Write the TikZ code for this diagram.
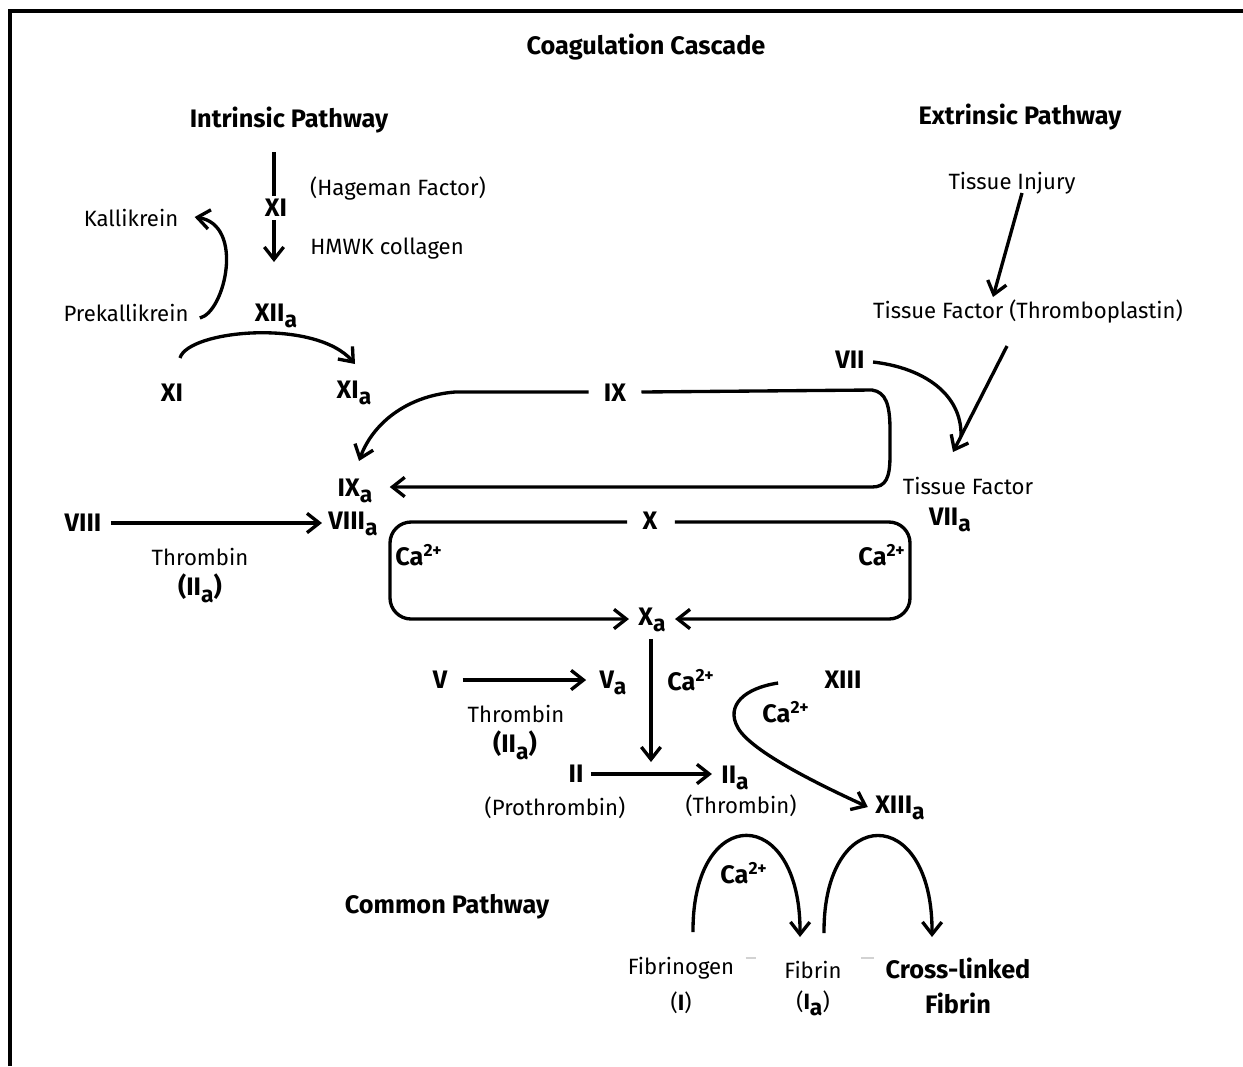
\documentclass[tikz,border=0pt]{standalone}
\usepackage{fontspec}
\setmainfont{Fira Sans}
\usepackage{tikz}
\usetikzlibrary{calc}
\usetikzlibrary{arrows.meta}

\newcommand{\actv}{\raisebox{-0.5ex}{\fontsize{13}{13}\selectfont a}}
\newcommand{\caion}{Ca\textsuperscript{2+}}

\begin{document}
\begin{tikzpicture}[x=0.02cm, y=-0.02cm, line width=1.9pt,
    every node/.style={font=\fontsize{12.6}{14}\selectfont, inner sep=1pt}]
    \tikzstyle{factor}=[font=\fontsize{14.4}{16}\selectfont\bfseries]
    \tikzstyle{flow}=[-{Straight Barb[length=7pt,width=11pt]}]

    \useasboundingbox (0,0) rectangle (1243,1066);

    % Frame
    \draw[line width=2pt] (10,1066) -- (10,11) -- (1243,11);

    % Headings
    \node[factor] (title) at (646,47) {Coagulation Cascade};
    \node[factor] (intr) at (289,120) {Intrinsic Pathway};
    \node[factor] (extr) at (1020,117) {Extrinsic Pathway};
    \node[factor] (common) at (447,907) {Common Pathway};

    % Intrinsic Pathway
    \node[factor] (hageman) at (276,208) {XI};
    \node (hagemanlbl) at (398,188) {(Hageman Factor)};
    \node (hmwk) at (387,249) {HMWK collagen};
    \coordinate (intrtop) at (274,152);
    \coordinate (intrend) at (274,262);
    \draw (intrtop) -- (intrtop |- hageman.north);
    \draw[flow] (intrend |- hageman.south) -- (intrend);

    \node (kall) at (131,218) {Kallikrein};
    \node (prekall) at (126,313) {Prekallikrein};
    \draw[flow] ($(prekall.east)+(8,5)$) .. controls (225,312) and (245,225) ..
      ($(kall.east)+(13,-1)$);

    \node[factor] (xiia) at (276,316) {XII\actv};
    \node[factor] (xi) at (172,393) {XI};
    \node[factor] (xia) at (354,393) {XI\actv};
    \draw[flow] ($(xi)+(8,-35)$) .. controls (188,330) and (315,318) ..
      ($(xia)+(1,-29)$);

    % Factor IX loop
    \node[factor] (ix) at (615,393) {IX};
    \node[factor] (ixa) at (355,491) {IX\actv};
    \draw[flow] ($(ix.east)+(12,-1)$) -- (872,390)
      .. controls (886,392) and (890,405) .. (890,430) -- (890,455)
      .. controls (890,478) and (886,487) .. (872,487)
      -- ($(ixa.east)+(14,-4)$);
    \draw[flow] ($(ix.west)+(-12,-1)$) -- (455,392)
      .. controls (405,396) and (372,425) .. ($(ixa)+(4,-30)$);

    % Factor VIII
    \node[factor] (viii) at (83,523) {VIII};
    \node[factor] (viiia) at (353,524) {VIII\actv};
    \draw[flow] ($(viii.east)+(6,0)$) -- ($(viii.east -| viiia.west)+(-3,0)$);
    \node (thr1) at (200,557) {Thrombin};
    \node[factor] (iia1) at (200,588) {(II\actv)};

    % Factor X complex
    \node[factor] (fx) at (650,521) {X};
    \node[factor] (fxa) at (652,620) {X\actv};
    \node[factor] (ca1) at (419,555) {\caion};
    \node[factor] (ca2) at (882,555) {\caion};
    \draw[flow, rounded corners=12pt] ($(fx.west)+(-12,1)$) -- (390,522) -- (390,619)
      -- ($(fxa.west)+(-6,-1)$);
    \draw[flow, rounded corners=12pt] ($(fx.east)+(14,1)$) -- (910,522) -- (910,619)
      -- ($(fxa.east)+(6,-1)$);

    % Extrinsic Pathway
    \node (injury) at (1012,183) {Tissue Injury};
    \node (tf) at (1028,311) {Tissue Factor (Thromboplastin)};
    \node[factor] (vii) at (850,360) {VII};
    \node (tf2) at (968,486) {Tissue Factor};
    \node[factor] (viia) at (950,520) {VII\actv};
    \coordinate (viijoin) at (961,436);
    \draw[flow] ($(injury)+(10,10)$) -- ($(tf)+(-35,-14)$);
    \draw[flow] ($(tf)+(-21,35)$) -- ($(tf2)+(-15,-34)$);
    \draw ($(vii.east)+(5,2)$) .. controls (925,368) and (962,395) .. (viijoin);

    % Common Pathway
    \node[factor] (fv) at (440,680) {V};
    \node[factor] (fva) at (613,683) {V\actv};
    \draw[flow] ($(fv.east)+(12,0)$) -- ($(fv.east -| fva.west)+(-10,0)$);
    \node (thr2) at (516,714) {Thrombin};
    \node[factor] (iia2) at (515,745) {(II\actv)};
    \node[factor] (ca3) at (691,680) {\caion};

    \coordinate (xadown) at (651,762);
    \draw[flow] ($(xadown |- fxa.south)+(0,3)$) -- (xadown);

    \node[factor] (ii) at (576,774) {II};
    \node[factor] (iia) at (735,778) {II\actv};
    \draw[flow] ($(ii.east)+(4,0)$) -- ($(ii.east -| iia.west)+(-6,0)$);
    \node (prothr) at (555,808) {(Prothrombin)};
    \node (thrombin) at (741,806) {(Thrombin)};

    \node[factor] (xiii) at (843,680) {XIII};
    \node[factor] (ca4) at (786,712) {\caion};
    \node[factor] (xiiia) at (900,808) {XIII\actv};
    \draw[flow] ($(xiii.west)+(-43,3)$) .. controls (745,688) and (725,705) .. (738,728)
      .. controls (752,752) and (820,785) .. ($(xiiia.west)+(-4,-1)$);

    % Fibrin formation
    \node (fbg) at (681,968) {Fibrinogen};
    \node (fbgi) at (681,1003) {(\textbf{I})};
    \node (fib) at (813,970) {Fibrin};
    \node (fibia) at (813,1003) {(\textbf{I\actv})};
    \node[factor] (cross) at (958,968) {Cross-linked};
    \node[factor] (crossfib) at (958,1003) {Fibrin};
    \node[factor] (ca5) at (744,873) {\caion};
    \draw[flow] ($(fbg)+(12,-36)$) .. controls (692,803) and (801,803) ..
      ($(fib)+(-13,-33)$);
    \draw[flow] ($(fib)+(11,-37)$) .. controls (823,803) and (933,803) ..
      ($(cross)+(-26,-31)$);
    \draw[gray!35, line width=0.8pt] ($(fbg.east)+(8,-10)$) -- ++(10,0);
    \draw[gray!35, line width=0.8pt] ($(cross.west)+(-21,-10)$) -- ++(13,0);
\end{tikzpicture}
\end{document}
